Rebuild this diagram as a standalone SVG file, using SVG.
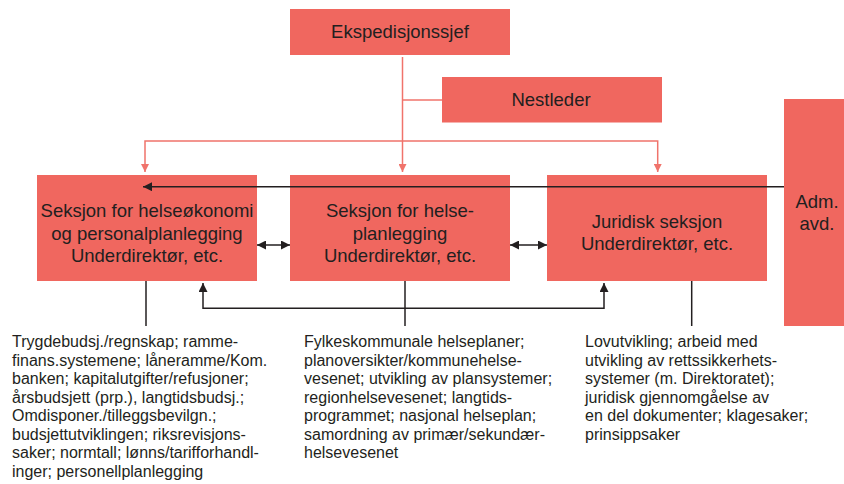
<svg xmlns="http://www.w3.org/2000/svg" width="844" height="484" viewBox="0 0 844 484">
<defs>
<style>
.box{fill:#F0675F}
.t{font-family:"Liberation Sans",Arial,sans-serif;font-size:18.5px;fill:#231F20;text-anchor:middle}
.b{font-family:"Liberation Sans",Arial,sans-serif;font-size:16px;fill:#231F20}
.red{stroke:#F0736B;stroke-width:1.5;fill:none}
.blk{stroke:#231F20;stroke-width:1.5;fill:none}
</style>
<marker id="ra" viewBox="0 0 10 10" refX="10" refY="5" markerWidth="8" markerHeight="8" markerUnits="userSpaceOnUse" orient="auto-start-reverse"><path d="M0,0 L10,5 L0,10 z" fill="#F0736B"/></marker>
<marker id="ba" viewBox="0 0 10 10" refX="10" refY="5" markerWidth="9" markerHeight="9" markerUnits="userSpaceOnUse" orient="auto-start-reverse"><path d="M0,0 L10,5 L0,10 z" fill="#231F20"/></marker>
</defs>
<rect width="844" height="484" fill="#fff"/>
<g id="ekspedisjonssjef">
<rect class="box" x="290" y="9" width="220" height="46"/>
<text class="t" x="400" y="38">Ekspedisjonssjef</text>
</g>
<g id="nestleder">
<rect class="box" x="442" y="77" width="220" height="45.5"/>
<text class="t" x="551" y="106">Nestleder</text>
</g>
<g id="helseokonomi">
<rect class="box" x="37" y="175" width="220" height="106"/>
<text class="t" x="147" y="217">Seksjon for helseøkonomi</text>
<text class="t" x="147" y="239.5">og personalplanlegging</text>
<text class="t" x="147" y="262">Underdirektør, etc.</text>
</g>
<g id="helseplanlegging">
<rect class="box" x="290" y="175" width="220" height="106"/>
<text class="t" x="400" y="217">Seksjon for helse-</text>
<text class="t" x="400" y="239.5">planlegging</text>
<text class="t" x="400" y="262">Underdirektør, etc.</text>
</g>
<g id="juridisk">
<rect class="box" x="547" y="175" width="220" height="106"/>
<text class="t" x="657" y="228">Juridisk seksjon</text>
<text class="t" x="657" y="250">Underdirektør, etc.</text>
</g>
<g id="adm">
<rect class="box" x="784" y="99" width="66" height="227"/>
<text class="t" x="817" y="208">Adm.</text>
<text class="t" x="817" y="230">avd.</text>
</g>
<g id="text1">
<text class="b" x="12" y="347">Trygdebudsj./regnskap; ramme-</text>
<text class="b" x="12" y="365.5">finans.systemene; låneramme/Kom.</text>
<text class="b" x="12" y="384">banken; kapitalutgifter/refusjoner;</text>
<text class="b" x="12" y="402.5">årsbudsjett (prp.), langtidsbudsj.;</text>
<text class="b" x="12" y="421">Omdisponer./tilleggsbevilgn.;</text>
<text class="b" x="12" y="439.5">budsjettutviklingen; riksrevisjons-</text>
<text class="b" x="12" y="458">saker; normtall; lønns/tarifforhandl-</text>
<text class="b" x="12" y="476.5">inger; personellplanlegging</text>
</g>
<g id="text2">
<text class="b" x="304" y="347">Fylkeskommunale helseplaner;</text>
<text class="b" x="304" y="365.5">planoversikter/kommunehelse-</text>
<text class="b" x="304" y="384">vesenet; utvikling av plansystemer;</text>
<text class="b" x="304" y="402.5">regionhelsevesenet; langtids-</text>
<text class="b" x="304" y="421">programmet; nasjonal helseplan;</text>
<text class="b" x="304" y="439.5">samordning av primær/sekundær-</text>
<text class="b" x="304" y="458">helsevesenet</text>
</g>
<g id="text3">
<text class="b" x="585" y="347">Lovutvikling; arbeid med</text>
<text class="b" x="585" y="365.5">utvikling av rettssikkerhets-</text>
<text class="b" x="585" y="384">systemer (m. Direktoratet);</text>
<text class="b" x="585" y="402.5">juridisk gjennomgåelse av</text>
<text class="b" x="585" y="421">en del dokumenter; klagesaker;</text>
<text class="b" x="585" y="439.5">prinsippsaker</text>
</g>
<g id="connectors">
<path class="red" d="M402.5,57 V172" marker-end="url(#ra)"/>
<path class="red" d="M402.5,100 H442"/>
<path class="red" d="M145,172 V141 H657.7 V172" marker-start="url(#ra)" marker-end="url(#ra)"/>
<path class="blk" d="M784,186.7 H143" marker-end="url(#ba)"/>
<path class="blk" d="M257,245 H290" marker-start="url(#ba)" marker-end="url(#ba)"/>
<path class="blk" d="M510,245 H547" marker-start="url(#ba)" marker-end="url(#ba)"/>
<path class="blk" d="M146,281 V326"/>
<path class="blk" d="M405,281 V326"/>
<path class="blk" d="M691.7,281 V326"/>
<path class="blk" d="M203,283 V308.3 H604 V283" marker-start="url(#ba)" marker-end="url(#ba)"/>
</g>
</svg>
